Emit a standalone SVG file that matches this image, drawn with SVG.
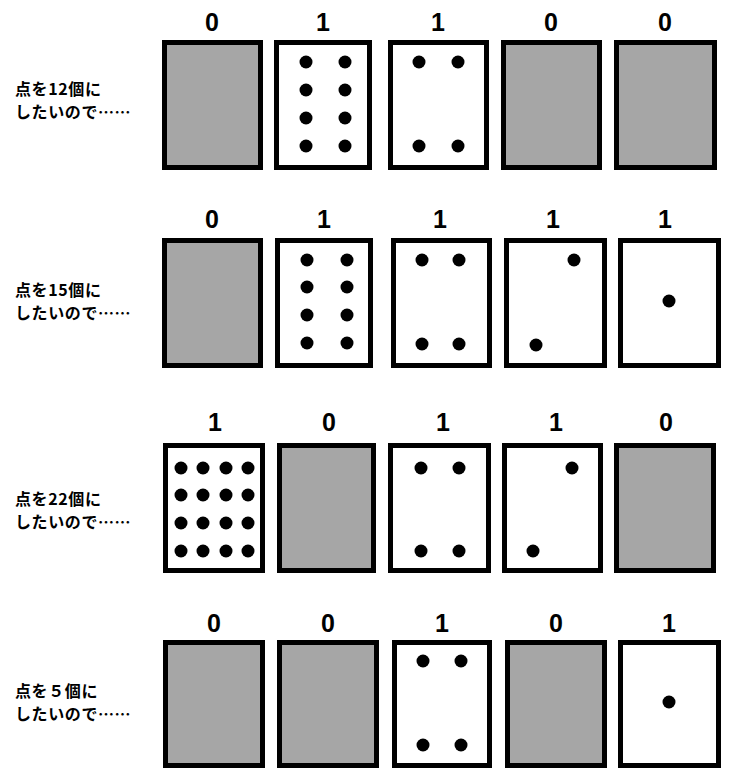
<svg xmlns="http://www.w3.org/2000/svg" width="731" height="774" viewBox="0 0 731 774">
<style>
.card{stroke:#000;stroke-width:5}
.off{fill:#a6a6a6}
.on{fill:#fff}
.bit{font-family:"Liberation Sans","Noto Sans",sans-serif;font-weight:bold;font-size:25px;text-anchor:middle;fill:#000}
.lbl{font-family:"Noto Sans CJK JP",sans-serif;font-weight:bold;font-size:16px;letter-spacing:0.6px;fill:#000}
.dot{fill:#000}
</style>
<rect width="731" height="774" fill="#fff"/>
<g id="row1">
<g id="label1"><text class="lbl" x="15" y="95">点を12個に</text><text class="lbl" x="15" y="118">したいので……</text></g>
<g id="r1c1"><text class="bit" x="212" y="31">0</text><rect class="card off" x="164.5" y="42.5" width="96" height="125"/></g>
<g id="r1c2"><text class="bit" x="323" y="31">1</text><rect class="card on" x="276.5" y="42.5" width="93" height="125"/>
<circle class="dot" cx="306" cy="62" r="6.5"/><circle class="dot" cx="345" cy="62" r="6.5"/>
<circle class="dot" cx="306" cy="90" r="6.5"/><circle class="dot" cx="345" cy="90" r="6.5"/>
<circle class="dot" cx="306" cy="118" r="6.5"/><circle class="dot" cx="345" cy="118" r="6.5"/>
<circle class="dot" cx="306" cy="146" r="6.5"/><circle class="dot" cx="345" cy="146" r="6.5"/></g>
<g id="r1c3"><text class="bit" x="438" y="31">1</text><rect class="card on" x="390.5" y="42.5" width="96" height="125"/>
<circle class="dot" cx="419" cy="62" r="6.5"/><circle class="dot" cx="458" cy="62" r="6.5"/>
<circle class="dot" cx="419" cy="146" r="6.5"/><circle class="dot" cx="458" cy="146" r="6.5"/></g>
<g id="r1c4"><text class="bit" x="551" y="31">0</text><rect class="card off" x="503.5" y="42.5" width="96" height="125"/></g>
<g id="r1c5"><text class="bit" x="665" y="31">0</text><rect class="card off" x="616.5" y="42.5" width="98" height="125"/></g>
</g>
<g id="row2">
<g id="label2"><text class="lbl" x="15" y="296">点を15個に</text><text class="lbl" x="15" y="319">したいので……</text></g>
<g id="r2c1"><text class="bit" x="212" y="228">0</text><rect class="card off" x="164.5" y="240.5" width="96" height="125"/></g>
<g id="r2c2"><text class="bit" x="324" y="228">1</text><rect class="card on" x="277.5" y="240.5" width="93" height="125"/>
<circle class="dot" cx="307" cy="260" r="6.5"/><circle class="dot" cx="347" cy="260" r="6.5"/>
<circle class="dot" cx="307" cy="287" r="6.5"/><circle class="dot" cx="347" cy="287" r="6.5"/>
<circle class="dot" cx="307" cy="315" r="6.5"/><circle class="dot" cx="347" cy="315" r="6.5"/>
<circle class="dot" cx="307" cy="343" r="6.5"/><circle class="dot" cx="347" cy="343" r="6.5"/></g>
<g id="r2c3"><text class="bit" x="440" y="228">1</text><rect class="card on" x="393.5" y="240.5" width="96" height="125"/>
<circle class="dot" cx="422" cy="260" r="6.5"/><circle class="dot" cx="459" cy="260" r="6.5"/>
<circle class="dot" cx="422" cy="344" r="6.5"/><circle class="dot" cx="459" cy="344" r="6.5"/></g>
<g id="r2c4"><text class="bit" x="553" y="228">1</text><rect class="card on" x="506.5" y="240.5" width="98" height="125"/>
<circle class="dot" cx="574" cy="260" r="6.5"/><circle class="dot" cx="536" cy="345" r="6.5"/></g>
<g id="r2c5"><text class="bit" x="665" y="228">1</text><rect class="card on" x="620.5" y="240.5" width="98" height="125"/>
<circle class="dot" cx="669" cy="301" r="6.5"/></g>
</g>
<g id="row3">
<g id="label3"><text class="lbl" x="15" y="505">点を22個に</text><text class="lbl" x="15" y="528">したいので……</text></g>
<g id="r3c1"><text class="bit" x="215" y="431">1</text><rect class="card on" x="165.5" y="445.5" width="97" height="125"/>
<circle class="dot" cx="181" cy="468" r="6.5"/><circle class="dot" cx="203" cy="468" r="6.5"/><circle class="dot" cx="226" cy="468" r="6.5"/><circle class="dot" cx="248" cy="468" r="6.5"/>
<circle class="dot" cx="181" cy="495" r="6.5"/><circle class="dot" cx="203" cy="495" r="6.5"/><circle class="dot" cx="226" cy="495" r="6.5"/><circle class="dot" cx="248" cy="495" r="6.5"/>
<circle class="dot" cx="181" cy="523" r="6.5"/><circle class="dot" cx="203" cy="523" r="6.5"/><circle class="dot" cx="226" cy="523" r="6.5"/><circle class="dot" cx="248" cy="523" r="6.5"/>
<circle class="dot" cx="181" cy="551" r="6.5"/><circle class="dot" cx="203" cy="551" r="6.5"/><circle class="dot" cx="226" cy="551" r="6.5"/><circle class="dot" cx="248" cy="551" r="6.5"/></g>
<g id="r3c2"><text class="bit" x="329" y="431">0</text><rect class="card off" x="279.5" y="445.5" width="94" height="125"/></g>
<g id="r3c3"><text class="bit" x="443" y="431">1</text><rect class="card on" x="390.5" y="445.5" width="98" height="125"/>
<circle class="dot" cx="421" cy="468" r="6.5"/><circle class="dot" cx="459" cy="468" r="6.5"/>
<circle class="dot" cx="421" cy="551" r="6.5"/><circle class="dot" cx="459" cy="551" r="6.5"/></g>
<g id="r3c4"><text class="bit" x="556" y="431">1</text><rect class="card on" x="504.5" y="445.5" width="96" height="125"/>
<circle class="dot" cx="572" cy="468" r="6.5"/><circle class="dot" cx="533" cy="551" r="6.5"/></g>
<g id="r3c5"><text class="bit" x="666" y="431">0</text><rect class="card off" x="616.5" y="445.5" width="97" height="125"/></g>
</g>
<g id="row4">
<g id="label4"><text class="lbl" x="15" y="697">点を５個に</text><text class="lbl" x="15" y="720">したいので……</text></g>
<g id="r4c1"><text class="bit" x="214" y="632">0</text><rect class="card off" x="165.5" y="642.5" width="97" height="123"/></g>
<g id="r4c2"><text class="bit" x="328" y="632">0</text><rect class="card off" x="279.5" y="642.5" width="97" height="123"/></g>
<g id="r4c3"><text class="bit" x="442" y="632">1</text><rect class="card on" x="394.5" y="642.5" width="95" height="123"/>
<circle class="dot" cx="423" cy="661" r="6.5"/><circle class="dot" cx="461" cy="661" r="6.5"/>
<circle class="dot" cx="423" cy="745" r="6.5"/><circle class="dot" cx="461" cy="745" r="6.5"/></g>
<g id="r4c4"><text class="bit" x="556" y="632">0</text><rect class="card off" x="507.5" y="642.5" width="97" height="123"/></g>
<g id="r4c5"><text class="bit" x="669" y="632">1</text><rect class="card on" x="620.5" y="642.5" width="98" height="123"/>
<circle class="dot" cx="669" cy="702" r="6.5"/></g>
</g>
<g id="connectors"/>
</svg>
